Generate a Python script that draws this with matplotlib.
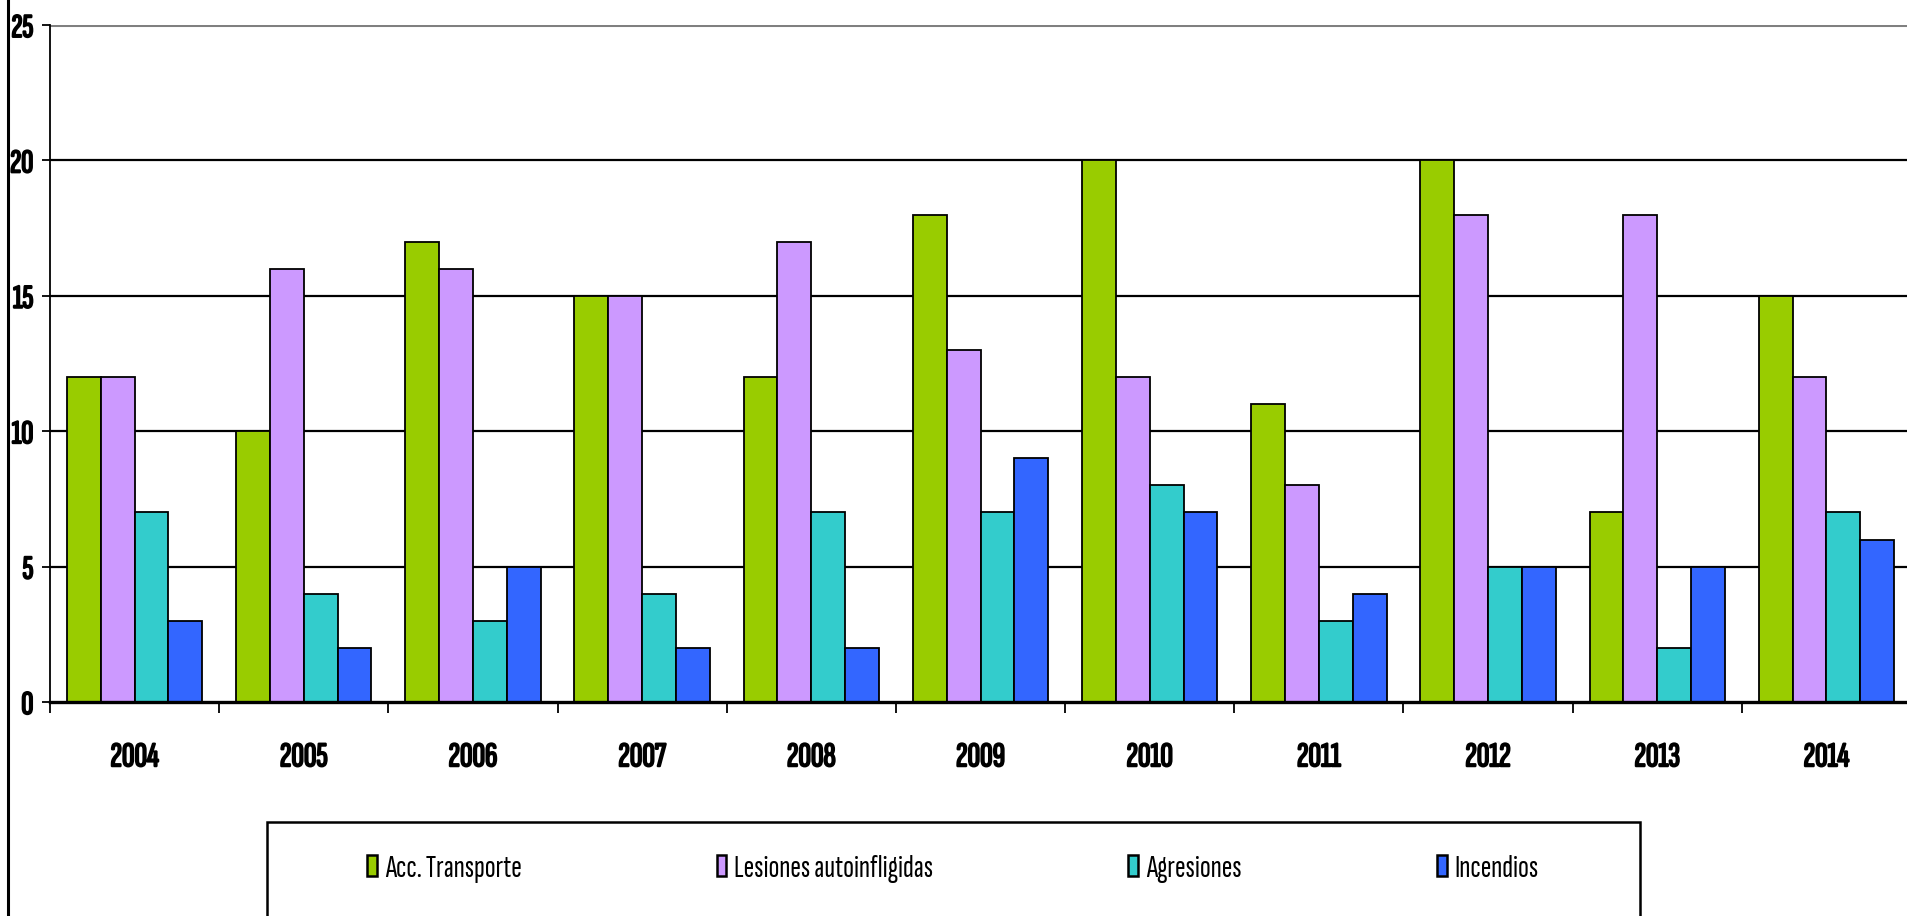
import matplotlib
matplotlib.use("Agg")
import matplotlib.pyplot as plt
import matplotlib.patheffects as pe
from matplotlib.patches import Rectangle, Patch
from matplotlib.lines import Line2D
import numpy as np

years = ["2004", "2005", "2006", "2007", "2008", "2009", "2010", "2011", "2012", "2013", "2014"]
acc_transporte = [12, 10, 17, 15, 12, 18, 20, 11, 20, 7, 15]
lesiones = [12, 16, 16, 15, 17, 13, 12, 8, 18, 18, 12]
agresiones = [7, 4, 3, 4, 7, 7, 8, 3, 5, 2, 7]
incendios = [3, 2, 5, 2, 2, 9, 7, 4, 5, 5, 6]
series_names = ["Acc. Transporte", "Lesiones autoinfligidas", "Agresiones", "Incendios"]
colors = ["#99CC00", "#CC99FF", "#33CCCC", "#3366FF"]
yticks = [0, 5, 10, 15, 20, 25]

NARROW = ["Archivo Narrow", "DejaVu Sans"]
XCOND = ["Sofia Sans Extra Condensed", "DejaVu Sans"]
plt.rcParams['font.family'] = NARROW

W, H = 1907, 916
fig = plt.figure(figsize=(W / 100, H / 100), dpi=100)
left, right, top, bottom = 50, 1911, 25, 702
ax = fig.add_axes([left / W, (H - bottom) / H, (right - left) / W, (bottom - top) / H])

x = np.arange(len(years))
bw = 0.2
data = [acc_transporte, lesiones, agresiones, incendios]
for i, (vals, c, name) in enumerate(zip(data, colors, series_names)):
    ax.bar(x - 0.3 + i * bw, vals, width=bw, color=c, edgecolor="black", linewidth=1.3, label=name, zorder=3)

ax.set_xlim(-0.5, len(years) - 0.5)
ax.set_ylim(0, 25)
for v in yticks[1:-1]:
    ax.axhline(v, color="black", linewidth=1.6, zorder=1)
ax.axhline(25, color="#808080", linewidth=2.2, zorder=1)

for s in ["top", "right"]:
    ax.spines[s].set_visible(False)
ax.spines["left"].set_linewidth(1.3)
ax.spines["bottom"].set_linewidth(2.4)
ax.spines["bottom"].set_zorder(4)

bold = [pe.withStroke(linewidth=1.4, foreground="black")]

ax.set_yticks(yticks)
ax.set_yticklabels([str(v) for v in yticks], fontsize=24, family=XCOND)
for t in ax.get_yticklabels():
    t.set_path_effects(bold)
ax.tick_params(axis="y", length=6, width=1.3, pad=6, direction="out")

ax.set_xticks(x)
ax.set_xticklabels(years, fontsize=25, family=XCOND)
for t in ax.get_xticklabels():
    t.set_path_effects(bold)
ax.tick_params(axis="x", which="major", length=0, pad=29)
ax.set_xticks(np.arange(-0.5, len(years)), minor=True)
ax.tick_params(axis="x", which="minor", length=8, width=1.3, direction="out")

# figure frame left border
fig.add_artist(Line2D([8 / W, 8 / W], [0, 1], color="black", linewidth=2.2))

# legend frame
lx0, lx1, ly0 = 267, 1640, 822
fig.add_artist(Rectangle((lx0 / W, -0.05), (lx1 - lx0) / W, (H - ly0) / H + 0.05,
                         fill=False, edgecolor="black", linewidth=1.8, transform=fig.transFigure))
handles = [Patch(facecolor=c, edgecolor="black", linewidth=1.8) for c in colors]
leg = fig.legend(handles, series_names, loc="center left", bbox_to_anchor=(367 / W, (H - 869) / H),
                 ncol=4, frameon=False, prop={"family": XCOND, "size": 23},
                 handlelength=0.31, handleheight=0.62,
                 handletextpad=0.25, columnspacing=6.1, borderaxespad=0, borderpad=0)

fig.savefig("out.png", dpi=100)
